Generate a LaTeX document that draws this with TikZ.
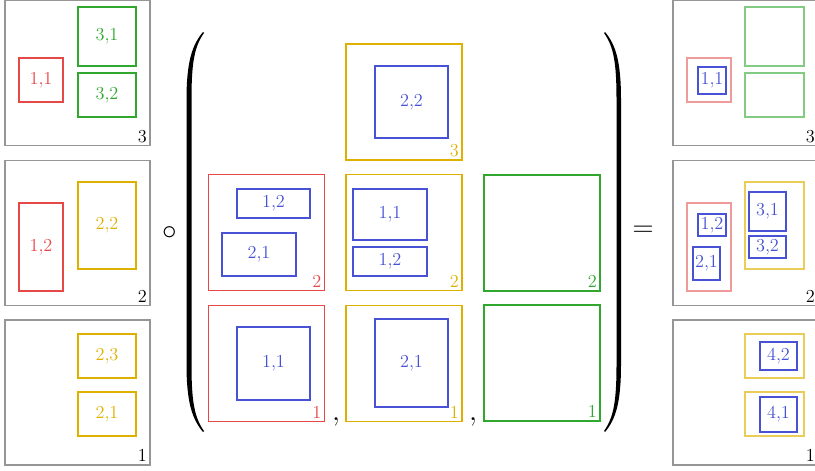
\documentclass[tikz,border=0pt]{standalone}
\usepackage{tikz}
\usetikzlibrary{positioning}
\usepackage{xcolor}
\definecolor{cred}{RGB}{230,72,72}
\definecolor{cyel}{RGB}{222,176,0}
\definecolor{cgrn}{RGB}{48,168,48}
\definecolor{cblu}{RGB}{72,82,212}
\definecolor{cgray}{RGB}{150,150,150}

\begin{document}
\begin{tikzpicture}[
    x=0.025cm, y=-0.025cm,
    font=\fontsize{13}{15}\selectfont,
    sz/.style 2 args={minimum width=#1*0.025cm, minimum height=#2*0.025cm},
    base/.style={draw, rectangle, inner sep=0pt, outer sep=0pt, line width=0.75pt},
    frame/.style={base, draw=cgray, sz={145}{145}},
    cell/.style={base, sz={116}{116}},
    rbox/.style={base, draw=cred, text=cred},
    ybox/.style={base, draw=cyel, text=cyel},
    gbox/.style={base, draw=cgrn, text=cgrn},
    bbox/.style={base, draw=cblu, text=cblu, line width=0.95pt},
    prbox/.style={base, draw=cred!55},
    pybox/.style={base, draw=cyel!65},
    pgbox/.style={base, draw=cgrn!60},
    num/.style={anchor=south east, inner sep=2pt},
    op/.style={font=\huge}
  ]
    \useasboundingbox (0,0) rectangle (815,471);

    % left column
    \node[frame] (l3) at (77.5,73) {};
    \node[frame] (l2) at (77.5,233) {};
    \node[frame] (l1) at (77.5,392.5) {};
    \node[num] at (l3.south east) {3};
    \node[num] at (l2.south east) {2};
    \node[num] at (l1.south east) {1};
    \node[rbox, sz={44}{44}] (l3a) at (41,80) {1,1};
    \node[gbox, sz={58}{59}] (l3b) at (107,36.5) {3,1};
    \node[gbox, sz={58}{44}] (l3c) at (107,95) {3,2};
    \node[rbox, sz={44}{88}] (l2a) at (41,247) {1,2};
    \node[ybox, sz={58}{87}] (l2b) at (107,225.5) {2,2};
    \node[ybox, sz={58}{44}] (l1a) at (107,356) {2,3};
    \node[ybox, sz={58}{44}] (l1b) at (107,414) {2,1};

    \node[op] (comp) at (170,233) {$\circ$};

    % big parentheses
    \fill (203,32) .. controls (192,45) and (186.5,62) .. (186.5,100) -- (186.5,364)
      .. controls (186.5,402) and (192,419) .. (203,432) -- (204,431)
      .. controls (194,417) and (191.5,400) .. (191.5,364) -- (191.5,100)
      .. controls (191.5,64) and (194,47) .. (204,33) -- cycle;
    \fill (605,32) .. controls (616,45) and (621,62) .. (621,100) -- (621,364)
      .. controls (621,402) and (616,419) .. (605,432) -- (604,431)
      .. controls (614,417) and (616.5,400) .. (616.5,364) -- (616.5,100)
      .. controls (616.5,64) and (614,47) .. (604,33) -- cycle;

    % matrix cells
    \node[cell, draw=cyel] (m3y) at (404,102) {};
    \node[cell, draw=cred] (m2r) at (266.5,232.5) {};
    \node[cell, draw=cyel] (m2y) at (404,232.5) {};
    \node[cell, draw=cgrn] (m2g) at (542,233) {};
    \node[cell, draw=cred] (m1r) at (266.5,363.5) {};
    \node[cell, draw=cyel] (m1y) at (404,363.5) {};
    \node[cell, draw=cgrn] (m1g) at (542,363) {};
    \node[num, text=cyel] at (m3y.south east) {3};
    \node[num, text=cred] at (m2r.south east) {2};
    \node[num, text=cyel] at (m2y.south east) {2};
    \node[num, text=cgrn] at (m2g.south east) {2};
    \node[num, text=cred] at (m1r.south east) {1};
    \node[num, text=cyel] at (m1y.south east) {1};
    \node[num, text=cgrn] at (m1g.south east) {1};
    \node[bbox, sz={73}{72}] (m3ya) at (411.5,102) {2,2};
    \node[bbox, sz={73}{29}] (m2ra) at (273.5,203.5) {1,2};
    \node[bbox, sz={74}{43}] (m2rb) at (259,254.5) {2,1};
    \node[bbox, sz={74}{51}] (m2ya) at (390,214.5) {1,1};
    \node[bbox, sz={74}{29}] (m2yb) at (390,261.5) {1,2};
    \node[bbox, sz={73}{73}] (m1ra) at (273.5,363.5) {1,1};
    \node[bbox, sz={73}{88}] (m1ya) at (411.5,363) {2,1};
    \node[op, anchor=base] (c1) at (336,420) {$,$};
    \node[op, anchor=base] (c2) at (473,420) {$,$};

    \node[op] (eq) at (643,231) {$=$};

    % right column
    \node[frame] (r3) at (745.5,73) {};
    \node[frame] (r2) at (745.5,233) {};
    \node[frame] (r1) at (745.5,392.5) {};
    \node[num] at (r3.south east) {3};
    \node[num] at (r2.south east) {2};
    \node[num] at (r1.south east) {1};
    \node[prbox, sz={44}{44}] (r3a) at (709,80) {};
    \node[pgbox, sz={59}{59}] (r3b) at (774.5,36.5) {};
    \node[pgbox, sz={59}{44}] (r3c) at (774.5,95) {};
    \node[bbox, sz={28}{27}] (r3d) at (712,80.5) {1,1};
    \node[prbox, sz={44}{88}] (r2a) at (709,247) {};
    \node[pybox, sz={59}{87}] (r2b) at (774.5,225.5) {};
    \node[bbox, sz={28}{22}] (r2c) at (712,225) {1,2};
    \node[bbox, sz={27}{33}] (r2d) at (706.5,263.5) {2,1};
    \node[bbox, sz={37}{39}] (r2e) at (767.5,211.5) {3,1};
    \node[bbox, sz={37}{22}] (r2f) at (767.5,247) {3,2};
    \node[pybox, sz={59}{44}] (r1a) at (774.5,356) {};
    \node[pybox, sz={59}{44}] (r1b) at (774.5,414) {};
    \node[bbox, sz={37}{28}] (r1c) at (778.5,356) {4,2};
    \node[bbox, sz={37}{35}] (r1d) at (778.5,414.5) {4,1};
  \end{tikzpicture}
\end{document}
